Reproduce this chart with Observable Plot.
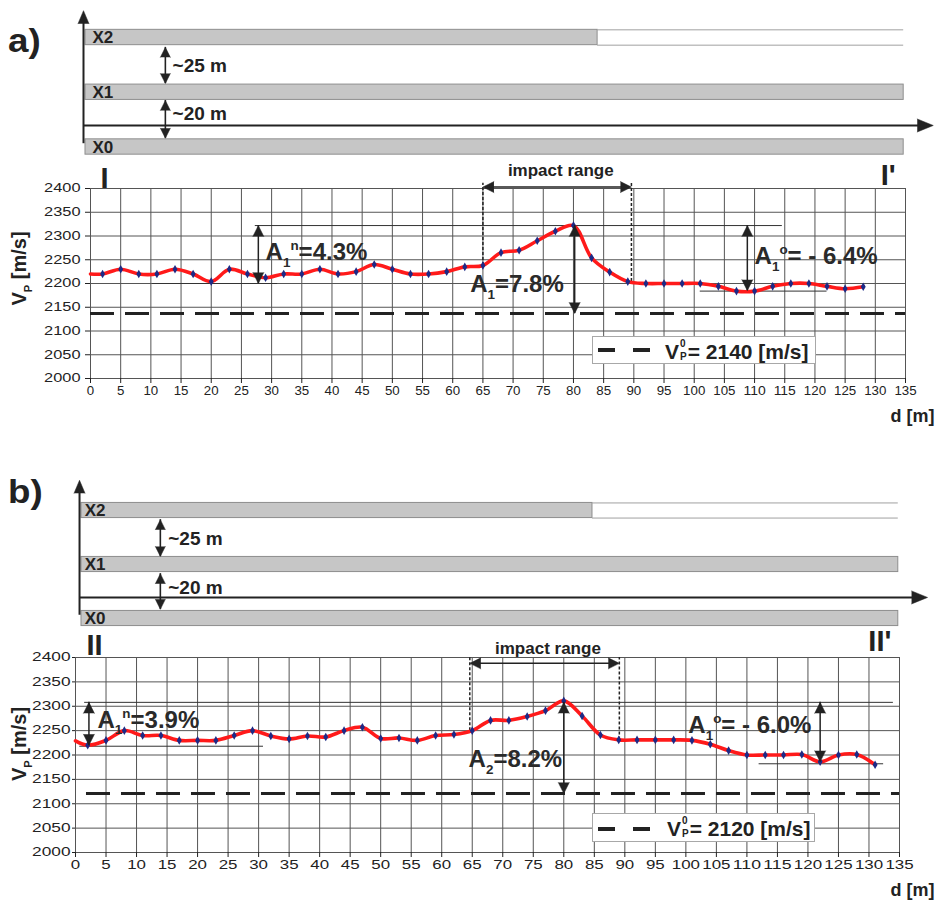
<!DOCTYPE html>
<html>
<head>
<meta charset="utf-8">
<script src="https://cdn.jsdelivr.net/npm/d3@7"></script>
<script src="https://cdn.jsdelivr.net/npm/@observablehq/plot@0.6"></script>
<style>
  html, body { margin: 0; padding: 0; background: #fff; }
  #root { position: relative; width: 940px; height: 901px; overflow: hidden;
          font-family: "Liberation Sans", Arial, Helvetica, sans-serif; color: #222; }
  #root svg { position: absolute; left: 0; }
  .panel-label { position: absolute; font-weight: bold; font-size: 34px; line-height: 1;
                 transform: scaleX(1.08); transform-origin: left top; }
  .legend { position: absolute; background: #fff; border: 1px solid #a8a8a8; box-sizing: border-box; }
  .legend .dash { position: absolute; height: 4px; width: 17px; background: #222; }
  .legend .txt { position: absolute; font-weight: bold; font-size: 21px; white-space: nowrap; line-height: 28px; top: 0; }
  .legend .ss { display: inline-flex; flex-direction: column; font-size: 10px; line-height: 13px;
                vertical-align: 12px; margin: 0 1px 0 1px; }
</style>
</head>
<body>
<div id="root"></div>
<script>
// ------------------------------------------------------------------ data
// distance along the section [m] and P-wave velocity [m/s]
const distA = [0, 2, 5, 8, 11, 14, 17, 20, 23, 26, 29, 32, 35, 38, 41, 44, 47, 50, 53, 56, 59, 62,
               65, 68, 71, 74, 77, 80, 83, 86, 89, 92, 95, 98, 101, 104, 107, 110, 113, 116, 119, 122, 125, 128];
const vpA   = [2220, 2220, 2230, 2220, 2220, 2230, 2220, 2204, 2230, 2220, 2212, 2220, 2220, 2230, 2220, 2225, 2240, 2230, 2220, 2220, 2225, 2235,
               2238, 2265, 2270, 2290, 2310, 2322, 2254, 2224, 2204, 2200, 2200, 2200, 2200, 2194, 2184, 2184, 2194, 2200, 2200, 2194, 2189, 2193];
const distB = [0, 2, 5, 8, 11, 14, 17, 20, 23, 26, 29, 32, 35, 38, 41, 44, 47, 50, 53, 56, 59, 62,
               65, 68, 71, 74, 77, 80, 83, 86, 89, 92, 95, 98, 101, 104, 107, 110, 113, 116, 119, 122, 125, 128, 131];
const vpB   = [2229, 2220, 2230, 2250, 2240, 2240, 2230, 2230, 2230, 2240, 2250, 2239, 2233, 2239, 2237, 2250, 2257, 2234, 2235, 2230, 2240, 2242,
               2250, 2271, 2271, 2279, 2291, 2311, 2280, 2241, 2231, 2231, 2231, 2231, 2230, 2222, 2209, 2200, 2200, 2200, 2201, 2186, 2200, 2201, 2180];

const xTicks = [0, 5, 10, 15, 20, 25, 30, 35, 40, 45, 50, 55, 60, 65, 70, 75, 80, 85, 90, 95, 100, 105, 110, 115, 120, 125, 130, 135];
const yTicks = [2000, 2050, 2100, 2150, 2200, 2250, 2300, 2350, 2400];

// reference (undisturbed) velocity: level as drawn, and its label
const vp0A = 2137, vp0TextA = "2140";
const vp0B = 2121, vp0TextB = "2120";

// impact range limits [m] and the velocity where the limit lines meet the curve
const impactA = [65, 89.6], impactBottomA = [2238, 2204];
const impactB = [64.6, 89.1], impactBottomB = [2250, 2231];

// amplitude arrows: [low, high] velocity, and their labels
const ampLevelsA = [[2200, 2322], [2137, 2322], [2185, 2322]];
const ampTextA   = ["A_1^n=4.3%", "A_1=7.8%", "A_1^o= - 6.4%"];
const ampLevelsB = [[2220, 2308], [2121, 2308], [2186, 2308]];
const ampTextB   = ["A_1^n=3.9%", "A_2=8.2%", "A_1^o= - 6.0%"];

// thin horizontal reference levels
const refLevelsA = [2322, 2200, 2184];
const refLevelsB = [2308, 2218, 2182];

const sectionA = ["I", "I'"];
const sectionB = ["II", "II'"];

// schematic of the workings
const tunnels = ["X2", "X1", "X0"];
const spacingText = ["~25 m", "~20 m"];
const x2LengthA = 84, x2LengthB = 84.7;

// ------------------------------------------------------------------ layout / style
const FONT = "'Liberation Sans', Arial, Helvetica, sans-serif";
const INK = "#222";
const GRID = "#555";
const RED = "#ff1a1a";
const NAVY = "#1d2a86";

const layoutA = {
  chartTop: 155, chartH: 275, mL: 90, mR: 35, mT: 33, mB: 52,
  yTickSize: 5, yTickPad: 5, yCharW: 9.1, xTickPad: 3, xCharW: 7.4,
  ylabDx: -71, ylabDy: -15, dDx: 29, dDy: 43,
  v0x1: 0,
  refX: [[27.3, 114.6], [10.3, 31], [101, 122]],
  arrowX: [27.8, 80.2, 108.8],
  ampPos: [[29.0, 2249], [62.9, 2182], [110.0, 2241]],
  impactY: 2403, impactTop: 2411, impactTextX: 77.9, impactTextDy: -13,
  secPos: [[1.66, -1], [130.9, -4]],
  legend: {left: 592, top: 336, w: 224, h: 28, dash: [5, 40], dashY: 11, textX: 72},
  panel: {left: 8, top: 23},
  schem: {top: 0, h: 165, lane0: 37, step: 54.75, half: 0.14, barStart: -0.83, barEnd: 134.7,
          vx: -1.16, vTop: -0.49, vBottom: 1.94, hy: 1.607, hTip: 139.6,
          ax: 12.4, spans: [[0.18, 0.84], [1.15, 1.84]], spX: 13.6, spY: [0.51, 1.39], nameX: 0.33}
};
const layoutB = {
  chartTop: 625, chartH: 276, mL: 75, mR: 41, mT: 32, mB: 49,
  yTickSize: 3, yTickPad: 2, yCharW: 9.6, xTickPad: 3, xCharW: 9.4,
  ylabDx: -56, ylabDy: -11, dDx: 35, dDy: 43,
  v0x1: 1.8,
  refX: [[1.5, 134], [0.7, 30.8], [112, 132.4]],
  arrowX: [2.2, 80, 122],
  ampPos: [[3.6, 2256], [64.4, 2175], [100.4, 2245]],
  impactY: 2388, impactTop: 2400, impactTextX: 77.4, impactTextDy: -4,
  secPos: [[1.8, -3], [129.9, -7]],
  legend: {left: 592, top: 813, w: 223, h: 29, dash: [5, 40], dashY: 13, textX: 74},
  panel: {left: 8, top: 474},
  schem: {top: 470, h: 160, lane0: 40, step: 54, half: 0.14, barStart: 0.98, barEnd: 134.8,
          vx: 0.66, vTop: -0.56, vBottom: 1.94, hy: 1.61, hTip: 139.6,
          ax: 13.9, spans: [[0.17, 0.85], [1.17, 1.83]], spX: 15.2, spY: [0.52, 1.43], nameX: 1.5}
};

const panels = [
  {label: "a)", dist: distA, vp: vpA, v0: vp0A, v0Text: vp0TextA, impact: impactA, impactBottom: impactBottomA,
   ampLevels: ampLevelsA, ampText: ampTextA, refLevels: refLevelsA, sections: sectionA, x2Length: x2LengthA, L: layoutA},
  {label: "b)", dist: distB, vp: vpB, v0: vp0B, v0Text: vp0TextB, impact: impactB, impactBottom: impactBottomB,
   ampLevels: ampLevelsB, ampText: ampTextB, refLevels: refLevelsB, sections: sectionB, x2Length: x2LengthB, L: layoutB}
];

// ------------------------------------------------------------------ helpers
const NS = "http://www.w3.org/2000/svg";
function richify(svg) {
  svg.querySelectorAll("text").forEach(t => {
    const s = t.textContent;
    if (!/[_^]/.test(s)) return;
    const host = t.closest("[font-size]");
    const fs = host ? parseFloat(host.getAttribute("font-size")) : 16;
    const segs = [];
    let buf = "";
    for (let i = 0; i < s.length; i++) {
      const c = s[i];
      if ((c === "_" || c === "^") && i + 1 < s.length) {
        if (buf) segs.push({t: buf, k: 0});
        buf = "";
        segs.push({t: s[i + 1], k: c === "_" ? 1 : -1});
        i++;
      } else buf += c;
    }
    if (buf) segs.push({t: buf, k: 0});
    while (t.firstChild) t.removeChild(t.firstChild);
    let cur = 0;
    for (const g of segs) {
      const ts = document.createElementNS(NS, "tspan");
      const off = g.k === 1 ? 0.28 * fs : g.k === -1 ? -0.42 * fs : 0;
      if (off !== cur) ts.setAttribute("dy", (off - cur).toFixed(2));
      cur = off;
      if (g.k) ts.setAttribute("font-size", (0.56 * fs).toFixed(2));
      ts.textContent = g.t;
      t.appendChild(ts);
    }
  });
}
function stretch(svg, selector, perChar) {
  svg.querySelectorAll(selector).forEach(t => {
    t.setAttribute("textLength", (t.textContent.length * perChar).toFixed(1));
    t.setAttribute("lengthAdjust", "spacingAndGlyphs");
  });
}
function head(data, opts) {
  return Plot.vector(data, {x: "x", y: "y", rotate: "r", length: 11, r: 5, shape: "spike", anchor: "end",
                            fill: INK, stroke: INK, strokeWidth: 0.5, ...opts});
}

const root = document.getElementById("root");

function drawSchem(P) {
  const L = P.L, S = L.schem;
  const lanes = tunnels.map((name, i) => ({name, i, end: i === 0 ? P.x2Length : S.barEnd}));
  const spans = spacingText.map((t, i) => ({t, lo: S.spans[i][0], hi: S.spans[i][1], y: S.spY[i]}));
  const smallHeads = spans.flatMap(s => [{x: S.ax, y: s.lo, r: 0}, {x: S.ax, y: s.hi, r: 180}]);
  const svg = Plot.plot({
    width: 940, height: S.h,
    style: {background: "transparent", fontFamily: FONT, color: INK, overflow: "visible"},
    x: {domain: [0, 135], range: [L.mL, 940 - L.mR], axis: null},
    y: {domain: [0, 1], range: [S.lane0, S.lane0 + S.step], axis: null},
    marks: [
      Plot.rect(lanes, {x1: S.barStart, x2: "end", y1: d => d.i - S.half, y2: d => d.i + S.half,
                        fill: "#c6c6c6", stroke: "#8e8e8e", strokeWidth: 1}),
      Plot.ruleY([-S.half, S.half], {x1: P.x2Length, x2: S.barEnd, stroke: "#a0a0a0", strokeWidth: 1}),
      Plot.ruleX([S.vx], {y1: S.vBottom, y2: S.vTop + 0.1, stroke: INK, strokeWidth: 2}),
      Plot.ruleY([S.hy], {x1: S.vx, x2: S.hTip - 1.5, stroke: INK, strokeWidth: 2}),
      head([{x: S.vx, y: S.vTop, r: 0}], {length: 13, r: 5.5}),
      head([{x: S.hTip, y: S.hy, r: 90}], {length: 16, r: 6.5}),
      Plot.ruleX(spans, {x: S.ax, y1: "lo", y2: "hi", stroke: INK, strokeWidth: 1.6}),
      head(smallHeads, {length: 10, r: 5}),
      Plot.text(lanes, {x: S.nameX, y: d => d.i + S.half, dy: -2, text: "name", textAnchor: "start",
                        lineAnchor: "bottom", fontSize: 17, fontWeight: "bold", fill: INK}),
      Plot.text(spans, {x: S.spX, y: "y", text: "t", textAnchor: "start", fontSize: 19, fontWeight: "bold",
                        fill: INK, ariaLabel: "spacing"})
    ]
  });
  svg.style.top = S.top + "px";
  root.appendChild(svg);
  stretch(svg, 'g[aria-label="spacing"] text', 13.0);
}

function drawChart(P) {
  const L = P.L;
  const rows = P.dist.map((d, i) => ({d, v: P.vp[i]}));
  const refs = P.refLevels.map((v, i) => ({v, x1: L.refX[i][0], x2: L.refX[i][1]}));
  const arrows = P.ampLevels.map(([lo, hi], i) => ({x: L.arrowX[i], lo, hi}));
  const amps = P.ampText.map((t, i) => ({t, x: L.ampPos[i][0], y: L.ampPos[i][1]}));
  const edges = P.impact.map((x, i) => ({x, lo: P.impactBottom[i]}));
  const heads = [
    ...arrows.flatMap(a => [{x: a.x, y: a.hi, r: 0}, {x: a.x, y: a.lo, r: 180}]),
    {x: P.impact[0], y: L.impactY, r: -90}, {x: P.impact[1], y: L.impactY, r: 90}
  ];
  const secs = P.sections.map((t, i) => ({t, x: L.secPos[i][0], dy: L.secPos[i][1]}));
  const svg = Plot.plot({
    width: 940, height: L.chartH,
    marginLeft: L.mL, marginRight: L.mR, marginTop: L.mT, marginBottom: L.mB,
    style: {background: "transparent", fontFamily: FONT, color: INK, overflow: "visible"},
    x: {domain: [0, 135]},
    y: {domain: [2000, 2400]},
    marks: [
      Plot.gridX(xTicks, {stroke: GRID, strokeOpacity: 1, strokeWidth: 1}),
      Plot.gridY(yTicks, {stroke: GRID, strokeOpacity: 1, strokeWidth: 1}),
      Plot.frame({stroke: GRID, strokeWidth: 1}),
      Plot.axisX(xTicks, {tickSize: 5, tickPadding: L.xTickPad, fontSize: 12, label: null, tickFormat: d => String(d)}),
      Plot.axisY(yTicks, {tickSize: L.yTickSize, tickPadding: L.yTickPad, fontSize: 12, label: null, tickFormat: d => String(d)}),
      Plot.ruleY([P.v0], {x1: L.v0x1, x2: 135, stroke: INK, strokeWidth: 3, strokeDasharray: "24,11"}),
      Plot.ruleY(refs, {y: "v", x1: "x1", x2: "x2", stroke: "#333", strokeWidth: 1}),
      Plot.ruleX(edges, {x: "x", y1: "lo", y2: L.impactTop, stroke: INK, strokeWidth: 1.5, strokeDasharray: "3,2"}),
      Plot.ruleY([L.impactY], {x1: P.impact[0] + 1, x2: P.impact[1] - 1, stroke: INK, strokeWidth: 1.5}),
      Plot.line(rows, {x: "d", y: "v", curve: "catmull-rom", stroke: RED, strokeWidth: 3.6}),
      Plot.dot(rows.filter(r => r.d > 0), {x: "d", y: "v", symbol: "diamond", r: 2.6, fill: NAVY, stroke: "none"}),
      Plot.ruleX(arrows, {x: "x", y1: "lo", y2: "hi", stroke: INK, strokeWidth: 1.5}),
      head(heads, {length: 11, r: 5.5}),
      Plot.text(amps, {x: "x", y: "y", text: "t", textAnchor: "start", lineAnchor: "bottom",
                       fontSize: 24, fontWeight: "bold", fill: "#2a2a2a"}),
      Plot.text(["impact range"], {x: L.impactTextX, y: 2400, dy: L.impactTextDy, lineAnchor: "bottom",
                                   fontSize: 17, fontWeight: "bold", fill: INK}),
      secs.map(s => Plot.text([s], {x: "x", y: 2400, dy: s.dy, text: "t", textAnchor: "start", lineAnchor: "bottom",
                                    fontSize: 29, fontWeight: "bold", fill: INK})),
      Plot.text(["V_P [m/s]"], {frameAnchor: "left", textAnchor: "middle", rotate: -90, dx: L.ylabDx, dy: L.ylabDy,
                                fontSize: 20, fontWeight: "bold", fill: INK}),
      Plot.text(["d [m]"], {frameAnchor: "bottom-right", dx: L.dDx, dy: L.dDy, textAnchor: "end", lineAnchor: "bottom",
                            fontSize: 18, fontWeight: "bold", fill: INK})
    ]
  });
  svg.style.top = L.chartTop + "px";
  root.appendChild(svg);
  richify(svg);
  stretch(svg, 'g[aria-label="y-axis tick label"] text', L.yCharW);
  stretch(svg, 'g[aria-label="x-axis tick label"] text', L.xCharW);

  // legend for the reference velocity (inside the plot area)
  const G = L.legend;
  const lg = document.createElement("div");
  lg.className = "legend";
  Object.assign(lg.style, {left: G.left + "px", top: G.top + "px", width: G.w + "px", height: G.h + "px"});
  for (const dx of G.dash) {
    const d = document.createElement("div");
    d.className = "dash";
    Object.assign(d.style, {left: dx + "px", top: G.dashY + "px"});
    lg.appendChild(d);
  }
  const tx = document.createElement("div");
  tx.className = "txt";
  tx.style.left = G.textX + "px";
  tx.innerHTML = `V<span class="ss"><span>0</span><span>P</span></span>= ${P.v0Text} [m/s]`;
  lg.appendChild(tx);
  root.appendChild(lg);

  // panel label
  const pl = document.createElement("div");
  pl.className = "panel-label";
  Object.assign(pl.style, {left: L.panel.left + "px", top: L.panel.top + "px"});
  pl.textContent = P.label;
  root.appendChild(pl);
}

for (const P of panels) {
  drawSchem(P);
  drawChart(P);
}
</script>
</body>
</html>
